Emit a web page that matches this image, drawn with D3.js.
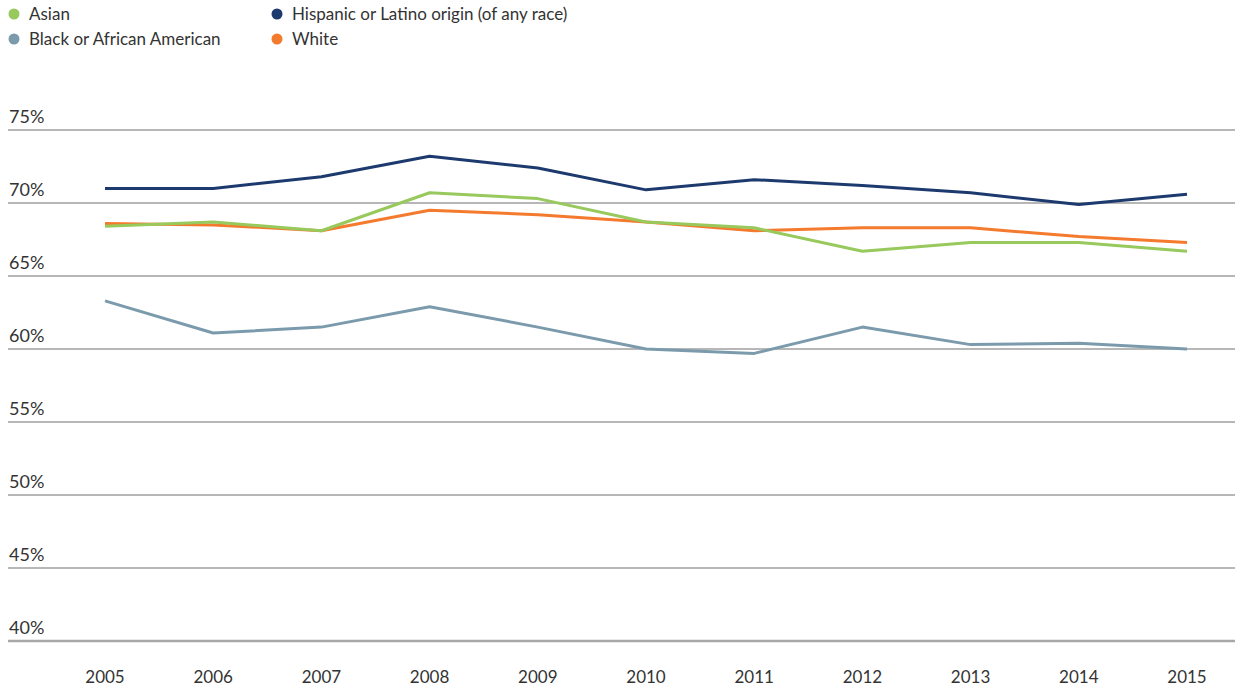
<!DOCTYPE html>
<html>
<head>
<meta charset="utf-8">
<script src="https://cdn.jsdelivr.net/npm/d3@7/dist/d3.min.js"></script>
<style>
  html, body { margin: 0; padding: 0; background: #fff; }
  svg { display: block; font-family: "Lato", "Open Sans", sans-serif; }
</style>
</head>
<body>
<svg id="chart" width="1235" height="690"></svg>
<script>
// Share of each group, by year (percent)
const years = [2005, 2006, 2007, 2008, 2009, 2010, 2011, 2012, 2013, 2014, 2015];
const asian    = [68.4, 68.7, 68.1, 70.7, 70.3, 68.7, 68.3, 66.7, 67.3, 67.3, 66.7];
const black    = [63.3, 61.1, 61.5, 62.9, 61.5, 60.0, 59.7, 61.5, 60.3, 60.4, 60.0];
const hispanic = [71.0, 71.0, 71.8, 73.2, 72.4, 70.9, 71.6, 71.2, 70.7, 69.9, 70.6];
const white    = [68.6, 68.5, 68.1, 69.5, 69.2, 68.7, 68.1, 68.3, 68.3, 67.7, 67.3];
const yTicks   = [40, 45, 50, 55, 60, 65, 70, 75];

const seriesNames  = ["Asian", "Black or African American", "Hispanic or Latino origin (of any race)", "White"];
const seriesValues = [asian, black, hispanic, white];
const seriesColors = ["#97c95c", "#7b9bad", "#1d3a6e", "#f47a2e"];

const svg = d3.select("#chart");

const x = d3.scalePoint().domain(years).range([105, 1187]);
const y = d3.scaleLinear().domain([40, 75]).range([641, 130]);

// Horizontal gridlines with labels sitting above each line
const grid = svg.append("g");
grid.selectAll("line").data(yTicks).join("line")
  .attr("x1", 8).attr("x2", 1235)
  .attr("y1", d => y(d)).attr("y2", d => y(d))
  .attr("stroke", d => d === 40 ? "#a8a8a8" : "#707070")
  .attr("stroke-width", d => d === 40 ? 2.5 : 1.2);
grid.selectAll("text").data(yTicks).join("text")
  .attr("x", 9).attr("y", d => y(d) - 7)
  .attr("font-size", 18).attr("fill", "#333")
  .text(d => d + "%");

// Year axis
const xAxis = svg.append("g").attr("transform", "translate(0,683)");
xAxis.selectAll("text").data(years).join("text")
  .attr("x", d => x(d)).attr("y", 0)
  .attr("text-anchor", "middle")
  .attr("font-size", 17).attr("fill", "#333")
  .text(d => d);

// Series lines
const line = d3.line().x((d, i) => x(years[i])).y(d => y(d));
const order = [1, 3, 0, 2];
svg.append("g").selectAll("path").data(order).join("path")
  .attr("d", i => line(seriesValues[i]))
  .attr("fill", "none")
  .attr("stroke", i => seriesColors[i])
  .attr("stroke-width", 3)
  .attr("stroke-linejoin", "round");

// Legend in two columns
const legendPos = [[14, 14], [14, 39], [277, 14], [277, 39]];
const legend = svg.append("g").selectAll("g").data(seriesNames).join("g")
  .attr("transform", (d, i) => `translate(${legendPos[i][0]},${legendPos[i][1]})`);
legend.append("circle").attr("r", 5.5).attr("fill", (d, i) => seriesColors[i]);
legend.append("text").attr("x", 15).attr("y", 6)
  .attr("font-size", 17).attr("fill", "#333")
  .text(d => d);
</script>
</body>
</html>
